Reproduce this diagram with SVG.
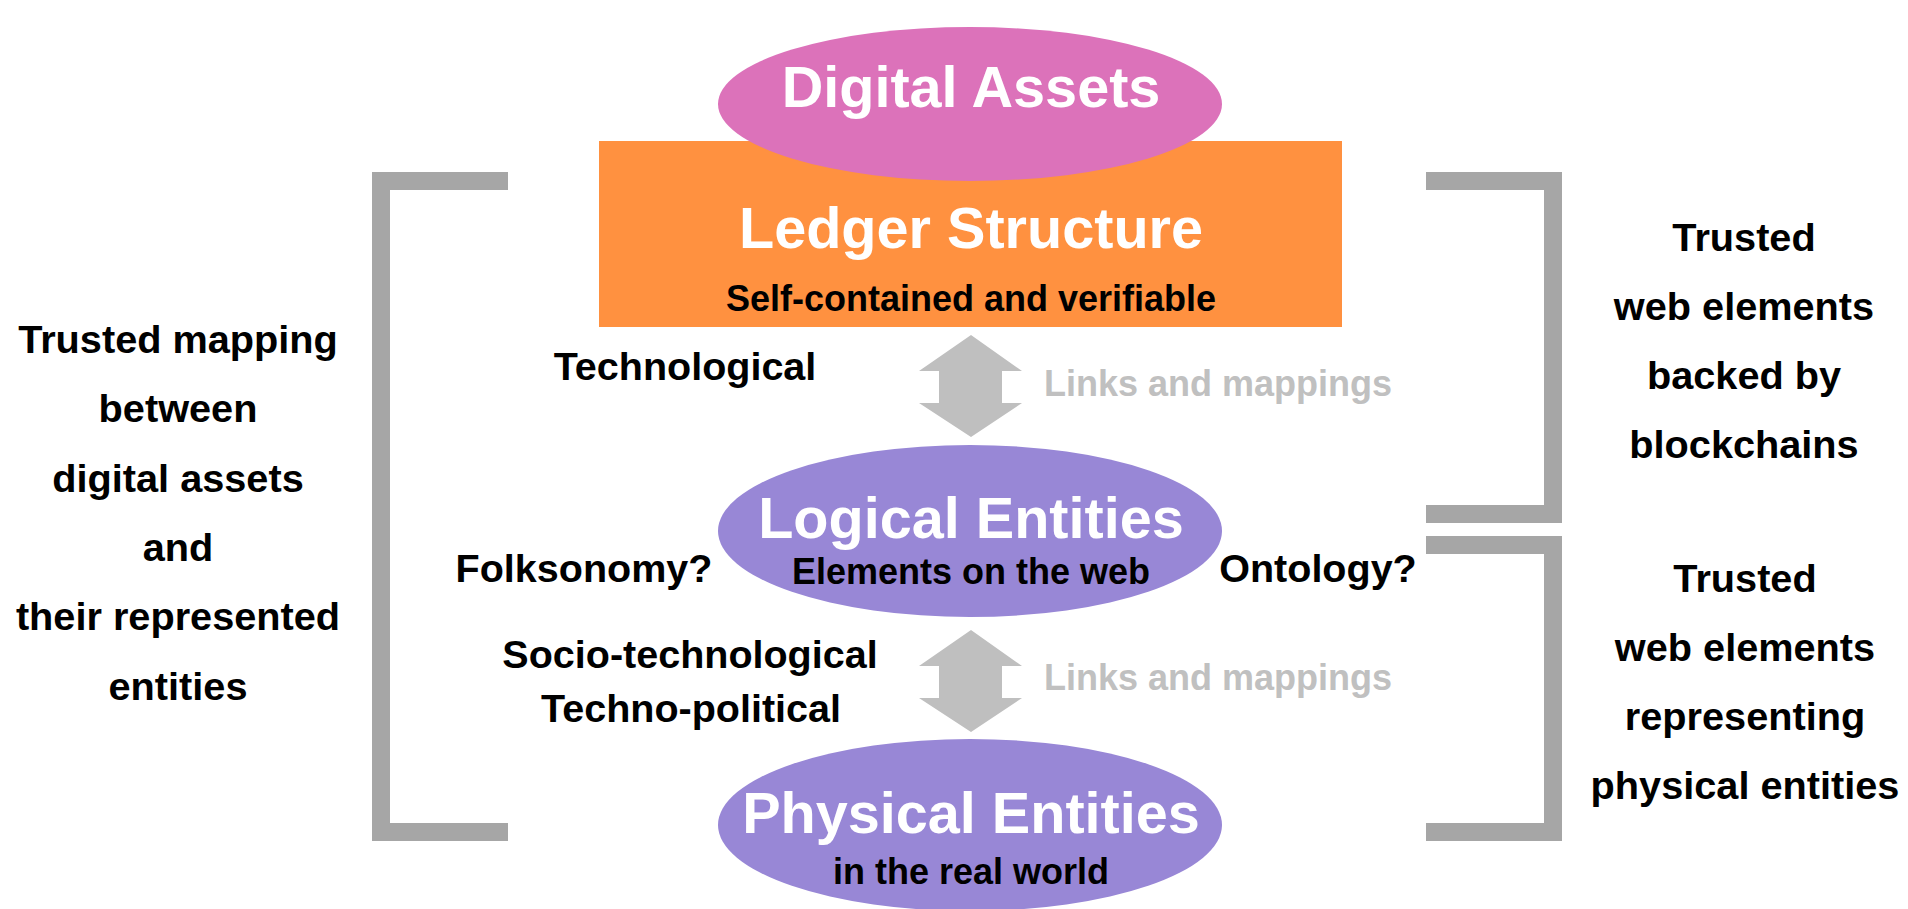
<svg xmlns="http://www.w3.org/2000/svg" width="1908" height="909" viewBox="0 0 1908 909">
<style>
text{font-family:"Liberation Sans",Arial,Helvetica,sans-serif;font-weight:bold;text-anchor:middle}
.title{font-size:57.6px;fill:#ffffff}
.sub{font-size:36px;fill:#000000}
.lbl{font-size:39.5px;fill:#000000}
.side{font-size:39.7px;fill:#000000}
.link{font-size:36px;fill:#c0c0c0;text-anchor:start}
.brk{fill:none;stroke:#a6a6a6;stroke-width:18;stroke-linejoin:miter;stroke-linecap:butt}
.arr{fill:#bfbfbf}
</style>
<rect width="1908" height="909" fill="#ffffff"/>
<g id="brackets">
<polyline class="brk" points="508,181 381,181 381,832 508,832"/>
<polyline class="brk" points="1426,181 1553,181 1553,514 1426,514"/>
<polyline class="brk" points="1426,545 1553,545 1553,832 1426,832"/>
</g>
<g id="ledger">
<rect x="599" y="141" width="743" height="186" fill="#ff9140"/>
<text class="title" x="971" y="248">Ledger Structure</text>
<text class="sub" x="971" y="311">Self-contained and verifiable</text>
</g>
<g id="digital-assets">
<ellipse cx="970" cy="104" rx="252" ry="77" fill="#dc72ba"/>
<text class="title" x="971" y="107">Digital Assets</text>
</g>
<g id="logical-entities">
<ellipse cx="970" cy="531" rx="252" ry="86" fill="#9887d6"/>
<text class="title" x="971" y="538">Logical Entities</text>
<text class="sub" x="971" y="584">Elements on the web</text>
</g>
<g id="physical-entities">
<ellipse cx="970" cy="825" rx="252" ry="86" fill="#9887d6"/>
<text class="title" x="971" y="833">Physical Entities</text>
<text class="sub" x="971" y="884">in the real world</text>
</g>
<g id="connectors">
<polygon class="arr" points="971,335 1022,371 1002,371 1002,403 1022,403 971,437 919,403 939,403 939,371 919,371"/>
<polygon class="arr" points="971,630 1022,666 1002,666 1002,698 1022,698 971,732 919,698 939,698 939,666 919,666"/>
<text class="link" x="1044" y="396">Links and mappings</text>
<text class="link" x="1044" y="690">Links and mappings</text>
</g>
<g id="labels">
<text class="lbl" x="685" y="380">Technological</text>
<text class="lbl" x="584" y="582">Folksonomy?</text>
<text class="lbl" x="1318" y="582">Ontology?</text>
<text class="lbl" x="690" y="668">Socio-technological</text>
<text class="lbl" x="691" y="722">Techno-political</text>
</g>
<g id="left-note">
<text class="side" x="178" y="353">Trusted mapping</text>
<text class="side" x="178" y="422">between</text>
<text class="side" x="178" y="492">digital assets</text>
<text class="side" x="178" y="561">and</text>
<text class="side" x="178" y="630">their represented</text>
<text class="side" x="178" y="700">entities</text>
</g>
<g id="right-note-1">
<text class="side" x="1744" y="251">Trusted</text>
<text class="side" x="1744" y="320">web elements</text>
<text class="side" x="1744" y="389">backed by</text>
<text class="side" x="1744" y="458">blockchains</text>
</g>
<g id="right-note-2">
<text class="side" x="1745" y="592">Trusted</text>
<text class="side" x="1745" y="661">web elements</text>
<text class="side" x="1745" y="730">representing</text>
<text class="side" x="1745" y="799">physical entities</text>
</g>
</svg>
